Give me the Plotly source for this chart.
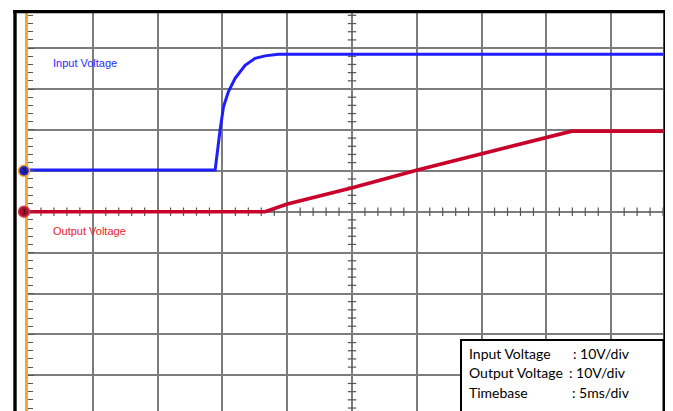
import plotly.graph_objects as go

# ---- data (read from the scope capture) ----
# time in ms, voltage in V relative to each channel's ground marker
t_in = [0.0, 14.44, 14.82, 15.08, 15.46, 15.98, 16.75, 17.52, 18.29, 19.32, 21.4, 49.0]
v_in = [0.2, 0.2, 9.95, 15.6, 19.3, 22.6, 25.8, 27.5, 28.1, 28.5, 28.5, 28.5]
t_out = [0.0, 18.29, 20.02, 25.03, 30.05, 35.02, 40.03, 41.96, 49.0]
v_out = [0.0, 0.0, 1.88, 5.87, 10.2, 14.1, 18.2, 19.7, 19.7]
ch_labels = ["Input Voltage", "Output Voltage"]
ch_numbers = ["3", "1"]
info_names = ["Input Voltage", "Output Voltage", "Timebase"]
info_values = [": 10V/div", ": 10V/div", ": 5ms/div"]

# ---- geometry / style ----
OFF = 8  # page body margin
W, H = 673 - OFF, 411 - OFF
L, R, T, B = 28 - OFF, 663 - OFF, 13 - OFF, 411 - OFF
PX_MS = 64.8 / 5.0
PX_V = 40.9 / 10.0
XR = [0, (R - L) / PX_MS]
Y0PX = 211.7 - OFF
YR = [-(B - Y0PX) / PX_V, (Y0PX - T) / PX_V]
IN_OFFSET = 10.0  # input channel ground sits one division above centre

def px(xp):
    return (xp - OFF - L) / (R - L)

def py(yp):
    return (B - (yp - OFF)) / (B - T)

BLUE = "#1e1eff"
RED = "#c8002a"
GRID = "#7c7c7c"
TICK = "#555555"

fig = go.Figure()

# centre-line minor ticks
xt = [i * 1.0 for i in range(0, 50) if i % 5 != 0]
fig.add_trace(go.Scatter(x=xt, y=[0] * len(xt), mode="markers",
                         marker=dict(symbol="line-ns", size=6, line=dict(width=1.2, color=TICK)),
                         hoverinfo="skip", showlegend=False))
yt = [v for v in range(-48, 49, 2) if v % 10 != 0]
fig.add_trace(go.Scatter(x=[25] * len(yt), y=yt, mode="markers",
                         marker=dict(symbol="line-ew", size=6, line=dict(width=1.2, color=TICK)),
                         hoverinfo="skip", showlegend=False))

fig.add_trace(go.Scatter(x=t_out, y=v_out, mode="lines",
                         line=dict(color=RED, width=3.6), showlegend=False))
fig.add_trace(go.Scatter(x=t_in, y=[v + IN_OFFSET for v in v_in], mode="lines",
                         line=dict(color=BLUE, width=3), showlegend=False))

shapes = []
# frame
shapes.append(dict(type="rect", xref="paper", yref="paper", x0=px(13.3), x1=px(16.7),
                   y0=py(10), y1=py(415), fillcolor="black", line=dict(width=0), layer="above"))
shapes.append(dict(type="rect", xref="paper", yref="paper", x0=px(13.3), x1=px(666.7),
                   y0=py(10), y1=py(13.3), fillcolor="black", line=dict(width=0), layer="above"))
shapes.append(dict(type="rect", xref="paper", yref="paper", x0=px(663.3), x1=px(666.7),
                   y0=py(10), y1=py(415), fillcolor="black", line=dict(width=0), layer="above"))
# info box
shapes.append(dict(type="rect", xref="paper", yref="paper", x0=px(461), x1=px(663.5),
                   y0=py(340), y1=py(420), fillcolor="white", line=dict(width=2, color="black"),
                   layer="above"))

# channel ground markers (placed at each channel's ground level on the y axis)
mx_px = 24
gnd_levels = [IN_OFFSET, 0.0]
fills = ["#2020d0", "#b0102a"]
edges = ["#f5a623", "#d04050"]
ann = []
for i in range(2):
    ypx = Y0PX + OFF - gnd_levels[i] * PX_V
    shapes.append(dict(type="circle", xref="paper", yref="paper",
                       x0=px(mx_px - 5.5), x1=px(mx_px + 5.5), y0=py(ypx + 5.5), y1=py(ypx - 5.5),
                       fillcolor=fills[i], line=dict(color=edges[i], width=1.5), layer="above"))
    ann.append(dict(text=ch_numbers[i], xref="paper", yref="paper", x=px(mx_px), y=py(ypx),
                    xanchor="center", yanchor="middle", showarrow=False,
                    font=dict(family="Liberation Sans", size=8, color="#111")))

ann.append(dict(text=ch_labels[0], xref="paper", yref="paper", x=px(50.5), y=py(62.5),
                xanchor="left", yanchor="middle", showarrow=False,
                font=dict(family="Liberation Sans", size=11, color="#2a2aff")))
ann.append(dict(text=ch_labels[1], xref="paper", yref="paper", x=px(50.5), y=py(231),
                xanchor="left", yanchor="middle", showarrow=False,
                font=dict(family="Liberation Sans", size=11, color="#e8202a")))
rows_y = [353.5, 372.5, 392]
val_x = [571, 567, 570]
for i in range(3):
    ann.append(dict(text=info_names[i], xref="paper", yref="paper", x=px(467), y=py(rows_y[i]),
                    xanchor="left", yanchor="middle", showarrow=False,
                    font=dict(family="Lato", size=14, color="black")))
    ann.append(dict(text=info_values[i], xref="paper", yref="paper", x=px(val_x[i]), y=py(rows_y[i]),
                    xanchor="left", yanchor="middle", showarrow=False,
                    font=dict(family="Lato", size=14, color="black")))

fig.update_layout(
    width=W, height=H,
    margin=dict(l=L, r=W - R, t=T, b=H - B, pad=0),
    paper_bgcolor="white", plot_bgcolor="white",
    shapes=shapes, annotations=ann,
    xaxis=dict(range=XR, tick0=0, dtick=5, showgrid=True, gridcolor=GRID, gridwidth=1.6,
               zeroline=False, showticklabels=False, ticks="", showline=False, fixedrange=True),
    yaxis=dict(range=YR, tick0=0, dtick=10, showgrid=True, gridcolor=GRID, gridwidth=1.6,
               zeroline=False, showticklabels=False, ticks="inside", ticklen=6,
               tickcolor=TICK, tickwidth=1.2,
               minor=dict(dtick=2, ticks="inside", ticklen=5, tickcolor=TICK, tickwidth=1.2, showgrid=False),
               showline=True, linecolor="#f5a830", linewidth=2.5, fixedrange=True),
)

fig.write_html("out.html")
